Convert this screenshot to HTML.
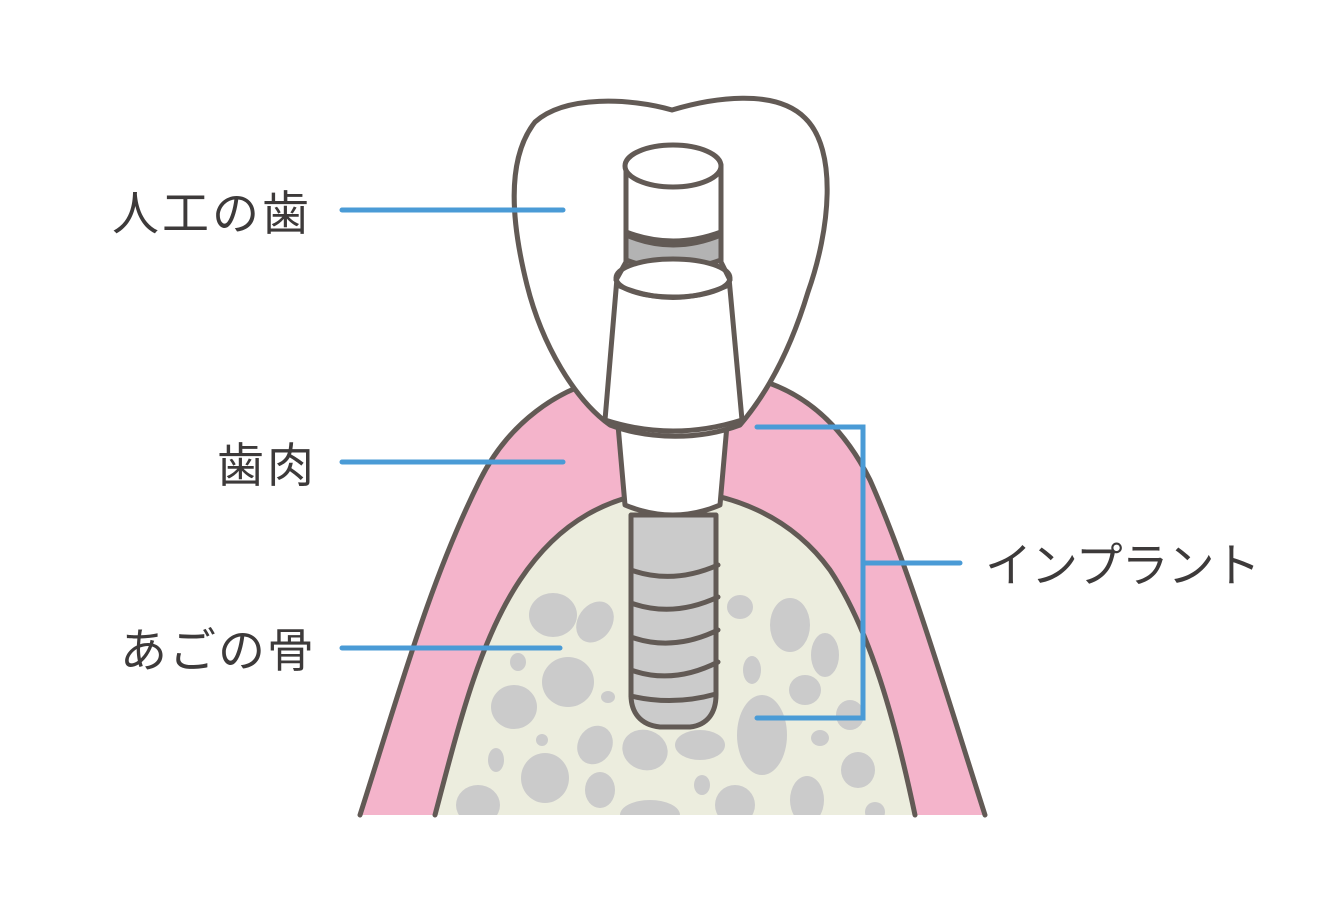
<!DOCTYPE html>
<html><head><meta charset="utf-8"><style>
html,body{margin:0;padding:0;background:#fff;}
svg{display:block}
text{font-family:"Liberation Sans","Noto Sans CJK JP",sans-serif;font-size:47px;fill:#3d3a3a}
</style></head><body>
<svg width="1340" height="921" viewBox="0 0 1340 921" xmlns="http://www.w3.org/2000/svg">
<defs>
<clipPath id="bc"><path d="M435,815 C460,720 480,640 520,580 C560,520 610,495 670,490 C730,492 790,515 830,570 C870,630 895,720 915,815 Z"/></clipPath>
</defs>
<!-- gum -->
<path d="M360,815 C400,690 430,580 480,480 C510,420 560,390 600,380 L760,380 C800,392 840,420 870,480 C910,570 945,690 985,815 Z" fill="#f4b4cb"/>
<path d="M360,815 C400,690 430,580 480,480 C510,420 560,390 600,380 M760,380 C800,392 840,420 870,480 C910,570 945,690 985,815" fill="none" stroke="#625a55" stroke-width="5" stroke-linecap="round"/>
<!-- bone -->
<path d="M435,815 C460,720 480,640 520,580 C560,520 610,495 670,490 C730,492 790,515 830,570 C870,630 895,720 915,815 Z" fill="#ecedde"/>
<g fill="#cbcbcb" clip-path="url(#bc)">
<ellipse cx="553" cy="615" rx="24" ry="22"/>
<ellipse cx="595" cy="622" rx="17" ry="22" transform="rotate(35 595 622)"/>
<ellipse cx="568" cy="682" rx="26" ry="25"/>
<ellipse cx="514" cy="707" rx="23" ry="22"/>
<ellipse cx="518" cy="662" rx="8" ry="9"/>
<ellipse cx="608" cy="697" rx="7" ry="6"/>
<ellipse cx="542" cy="740" rx="6" ry="6"/>
<ellipse cx="545" cy="778" rx="24" ry="25"/>
<ellipse cx="595" cy="745" rx="17" ry="20" transform="rotate(30 595 745)"/>
<ellipse cx="496" cy="760" rx="8" ry="12"/>
<ellipse cx="478" cy="805" rx="22" ry="20"/>
<ellipse cx="645" cy="750" rx="23" ry="20" transform="rotate(20 645 750)"/>
<ellipse cx="700" cy="745" rx="25" ry="15"/>
<ellipse cx="600" cy="790" rx="15" ry="18"/>
<ellipse cx="650" cy="815" rx="30" ry="15"/>
<ellipse cx="702" cy="785" rx="8" ry="10"/>
<ellipse cx="735" cy="805" rx="20" ry="20"/>
<ellipse cx="740" cy="607" rx="13" ry="12"/>
<ellipse cx="790" cy="625" rx="20" ry="27"/>
<ellipse cx="825" cy="655" rx="14" ry="22"/>
<ellipse cx="752" cy="670" rx="9" ry="14"/>
<ellipse cx="805" cy="690" rx="16" ry="15"/>
<ellipse cx="762" cy="735" rx="25" ry="40"/>
<ellipse cx="850" cy="715" rx="14" ry="15"/>
<ellipse cx="820" cy="738" rx="9" ry="8"/>
<ellipse cx="858" cy="770" rx="17" ry="18"/>
<ellipse cx="807" cy="800" rx="17" ry="24"/>
<ellipse cx="875" cy="812" rx="10" ry="10"/>
</g>
<path d="M435,815 C460,720 480,640 520,580 C560,520 610,495 670,490 C730,492 790,515 830,570 C870,630 895,720 915,815" fill="none" stroke="#625a55" stroke-width="5" stroke-linecap="round"/>
<g stroke="#625a55" stroke-width="5" stroke-linejoin="round" stroke-linecap="round">
<!-- screw -->
<path d="M631,515 L631,695 C631,712 640,725 660,727 L690,727 C708,725 716,712 716,695 L716,515 Z" fill="#cbcbcb"/>
<path d="M631,570 Q673,585 718,565 M631,603 Q673,618 718,597 M631,637 Q673,652 718,630 M631,670 Q673,685 718,662 M631,696 Q673,706 716,694" fill="none"/>
<!-- neck -->
<path d="M618,425 L625,505 Q673,525 720,505 L727,425 Z" fill="#fff"/>
<!-- crown -->
<path d="M610,425 C575,400 542,345 527,285 C512,225 505,160 535,122 C565,95 630,98 672,110 C712,98 775,88 805,118 C838,150 830,230 808,292 C792,345 770,390 740,425 C700,440 650,440 610,425 Z" fill="#fff"/>
<!-- abutment -->
<path d="M617,278 L605,420 Q673,442 742,420 L729,278 Z" fill="#fff"/>
<path d="M626,165 L626,260 L721,260 L721,165 Z" fill="#fff"/>
<path d="M626,235 Q673,255 721,235 L721,260 Q673,278 626,260 Z" fill="#b3b3b3"/>
<path d="M626,232 Q673,250 721,232" fill="none"/>
<ellipse cx="673" cy="278" rx="57" ry="19" fill="#fff"/>
<path d="M616,280 L626,262 M730,280 L721,262" fill="none"/>
<path d="M617,285 Q673,310 729,285" fill="none"/>
<ellipse cx="673" cy="166" rx="48" ry="21" fill="#fff"/>
</g>
<!-- blue lines -->
<g stroke="#4a9bd6" stroke-width="5" stroke-linecap="round" fill="none">
<path d="M342,210 H563"/>
<path d="M342,462 H563"/>
<path d="M342,648 H560"/>
<path d="M757,427 H863 V718 H757"/>
<path d="M863,563 H960"/>
</g>
<text x="112" y="230" letter-spacing="3">人工の歯</text>
<text x="217" y="482" letter-spacing="3">歯肉</text>
<text x="120" y="667" letter-spacing="2">あごの骨</text>
<text x="985" y="582" letter-spacing="-1">インプラント</text>
</svg>
</body></html>
